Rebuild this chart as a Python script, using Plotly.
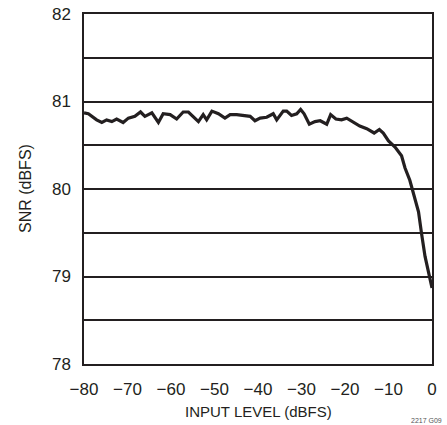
import plotly.graph_objects as go

input_level = [-80, -79, -77.1, -75.9, -74.8, -73.6, -72.5, -71, -69.8, -68.3, -67, -66, -64.4, -62.9,
               -61.8, -60.2, -58.7, -57.2, -56, -54.9, -53.7, -52.6, -51.8, -50.6, -49.1, -47.6,
               -46.4, -44.9, -43.4, -41.8, -40.7, -39.5, -38, -36.5, -35.7, -34.2, -33.4, -32.3,
               -31.1, -30.2, -29.4, -28.2, -26.9, -25.7, -24.2, -23.3, -22.1, -20.8, -19.6, -18.1,
               -16.6, -15, -13.3, -12.1, -11.2, -10, -8.5, -7, -6.2, -5.1, -4.3, -3.1, -2.4, -1.6, 0]
snr = [80.87, 80.86, 80.79, 80.76, 80.79, 80.77, 80.80, 80.76, 80.81, 80.83, 80.88, 80.83, 80.87, 80.76,
       80.86, 80.85, 80.80, 80.88, 80.88, 80.83, 80.77, 80.85, 80.79, 80.89, 80.86, 80.81,
       80.85, 80.85, 80.84, 80.83, 80.78, 80.81, 80.82, 80.86, 80.79, 80.89, 80.89, 80.84,
       80.86, 80.91, 80.86, 80.74, 80.77, 80.78, 80.74, 80.85, 80.80, 80.79, 80.81, 80.76,
       80.72, 80.69, 80.64, 80.68, 80.64, 80.55, 80.48, 80.38, 80.24, 80.10, 79.95, 79.74, 79.49, 79.23, 78.87]

x_ticks = [-80, -70, -60, -50, -40, -30, -20, -10, 0]
x_labels = ["\u221280", "\u221270", "\u221260", "\u221250", "\u221240", "\u221230", "\u221220", "\u221210", "0"]
y_ticks = [78, 79, 80, 81, 82]
x_title = "INPUT LEVEL (dBFS)"
y_title = "SNR (dBFS)"
note = "2217 G09"

font_family = "Liberation Sans Narrow, Arial Narrow, Liberation Sans, Arial, sans-serif"
ink = "#231f20"

fig = go.Figure()
fig.add_trace(go.Scatter(x=input_level, y=snr, mode="lines",
                         line=dict(color=ink, width=3.2), showlegend=False, hoverinfo="skip"))

fig.update_layout(
    width=447, height=425,
    margin=dict(l=84, r=15, t=14, b=61, autoexpand=False),
    paper_bgcolor="white", plot_bgcolor="white",
    font=dict(family=font_family, color=ink, size=17),
    xaxis=dict(range=[-80, 0], tickvals=x_ticks, ticktext=x_labels, showgrid=False,
               showline=True, linecolor=ink, linewidth=1.5, mirror=True, automargin=False,
               ticks="", tickfont=dict(size=17), zeroline=False, ticklabelstandoff=9),
    yaxis=dict(range=[78, 82], tickvals=y_ticks, showgrid=True, gridcolor=ink, gridwidth=1.5,
               showline=True, linecolor=ink, linewidth=1.5, mirror=True, automargin=False,
               ticks="", tickfont=dict(size=17), zeroline=False, ticklabelstandoff=8,
               minor=dict(dtick=0.5, tick0=78, showgrid=True, gridcolor=ink, gridwidth=1.5)),
)

fig.add_annotation(text=x_title, x=0.5, y=0, xref="paper", yref="paper",
                   xanchor="center", yanchor="middle", yshift=-47, showarrow=False,
                   font=dict(size=15, color=ink, family=font_family))
fig.add_annotation(text=y_title, x=0, y=0.5, xref="paper", yref="paper", textangle=-90,
                   xanchor="center", yanchor="middle", xshift=-59, showarrow=False,
                   font=dict(size=16, color=ink, family=font_family))
fig.add_annotation(text=note, x=1.0, y=0, xref="paper", yref="paper",
                   xanchor="right", yanchor="middle", xshift=12, yshift=-56, showarrow=False,
                   font=dict(size=7, color="#555555", family=font_family))

fig.write_html("out.html", config={"displayModeBar": False},
               post_script="document.body.style.margin='0';")
